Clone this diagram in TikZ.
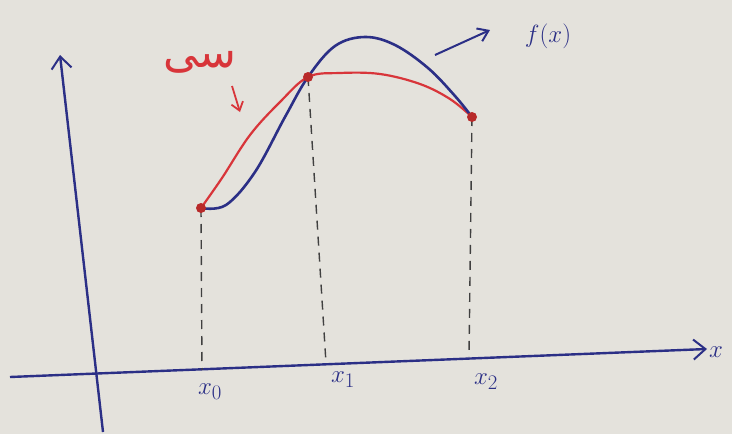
\documentclass[tikz,border=0pt]{standalone}
\usepackage{fontspec}
\usetikzlibrary{arrows.meta}
\TeXXeTstate=1
\newfontfamily\arabicfont[Script=Arabic]{DejaVu Sans}
\definecolor{paper}{HTML}{E4E2DC}
\definecolor{ink}{HTML}{2B2F86}
\definecolor{redink}{HTML}{D8353A}
\definecolor{dotc}{HTML}{B82A2A}
\begin{document}
\begin{tikzpicture}[x=1pt,y=-1pt,
  axis/.style={draw=ink,line width=2.4pt,-{Straight Barb[length=12pt,width=20pt,line width=2pt]}},
  guide/.style={draw=black!75,line width=1.4pt,dash pattern=on 9pt off 7pt},
  bluecurve/.style={draw=ink,line width=2.6pt},
  redcurve/.style={draw=redink,line width=2.2pt},
  pt/.style={circle,fill=dotc,inner sep=0pt,minimum size=10pt},
  lab/.style={text=ink,font=\fontsize{30}{32}\selectfont}]
\fill[paper] (0,0) rectangle (732,434);
\useasboundingbox (0,0) rectangle (732,434);
% axes
\coordinate (xs) at (10,377);
\coordinate (xe) at (707,349);
\coordinate (ys) at (103,432);
\coordinate (ye) at (60,55);
\draw[axis] (xs) -- (xe);
\draw[axis] (ys) -- (ye);
\node[lab] (xl) at (716,352) {$x$};
% points
\coordinate (p0) at (201,208);
\coordinate (p1) at (308,77);
\coordinate (p2) at (472,117);
\coordinate (a0) at (202,370);
\coordinate (a1) at (326,363);
\coordinate (a2) at (469,357);
\draw[guide] (p0) -- (a0);
\draw[guide] (p1) -- (a1);
\draw[guide] (p2) -- (a2);
% curves
\draw[redcurve] plot[smooth,tension=0.6] coordinates {(201,208) (222,178) (250,135) (280,102) (308,77) (340,73) (380,74) (420,84) (450,99) (472,117)};
\draw[bluecurve] plot[smooth,tension=0.6] coordinates {(201,208) (226,205) (255,172) (285,117) (308,77) (335,46) (365,37) (395,45) (428,68) (455,96) (472,117)};
\node[pt] (n0) at (p0) {};
\node[pt] (n1) at (p1) {};
\node[pt] (n2) at (p2) {};
% labels on axis
\node[lab] (l0) at (210,392) {$x_0$};
\node[lab] (l1) at (343,380) {$x_1$};
\node[lab] (l2) at (486,382) {$x_2$};
% f(x) label and arrow
\node[lab,font=\fontsize{38}{40}\selectfont] (fl) at (548,36) {$f(x)$};
\coordinate (fa) at (435,55);
\coordinate (fb) at (490,30);
\draw[draw=ink,line width=2pt,-{Straight Barb[length=10pt,width=14pt,line width=2pt]}] (fa) -- (fb);
% red label
\node[text=redink,font=\arabicfont\fontsize{44}{46}\selectfont] (rl) at (200,62) {\beginR سی\endR};
\coordinate (ra) at (232,86);
\coordinate (rb) at (240,112);
\draw[redink,line width=1.8pt,-{Straight Barb[length=8pt,width=12pt,line width=1.8pt]}] (ra) -- (rb);
\end{tikzpicture}
\end{document}
